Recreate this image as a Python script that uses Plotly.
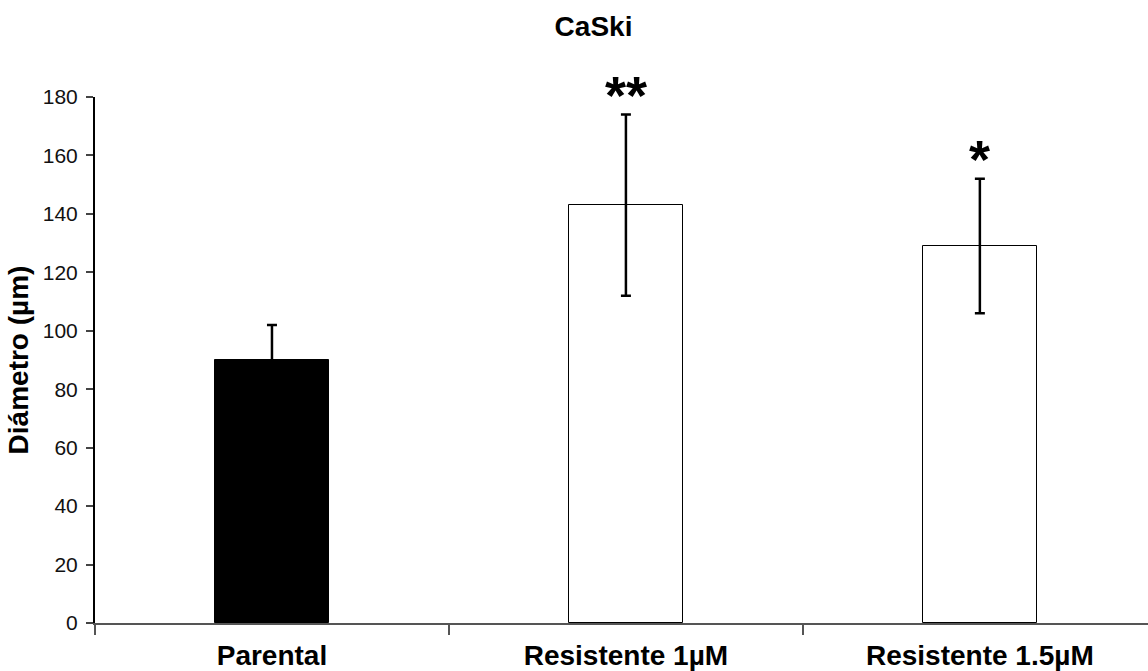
import plotly.graph_objects as go

categories = ["Parental", "Resistente 1µM", "Resistente 1.5µM"]
means = [90, 143, 129]
errors = [12, 31, 23]
bar_colors = ["black", "white", "white"]
sig_labels = ["", "**", "*"]
y_ticks = [0, 20, 40, 60, 80, 100, 120, 140, 160, 180]

FONT = "Liberation Sans, Arial, sans-serif"

fig = go.Figure()
fig.add_trace(go.Bar(
    x=categories, y=means, width=0.32,
    marker=dict(color=bar_colors, line=dict(color="black", width=1)),
    error_y=dict(type="data", array=errors, color="black", thickness=2.5, width=5),
    showlegend=False,
))

# significance marks placed above the top of each error bar
for c, s, m, e in zip(categories, sig_labels, means, errors):
    if s:
        fig.add_annotation(x=c, y=m + e, xref="x", yref="y", text=s, showarrow=False,
                           yanchor="middle", yshift=20,
                           font=dict(family=FONT, size=54, color="black", weight="bold"))

fig.update_layout(
    width=1148, height=671,
    margin=dict(l=95, r=0, t=97, b=48),
    paper_bgcolor="white", plot_bgcolor="white",
    title=dict(text="CaSki", x=0.517, xref="container", y=1 - 26 / 671, yref="container",
               xanchor="center", yanchor="middle",
               font=dict(family=FONT, size=28, color="black", weight="bold")),
    bargap=0,
)
fig.update_xaxes(
    type="category", range=[-0.5, 2.475], tickson="boundaries", automargin=False,
    ticks="outside", ticklen=10, tickcolor="#555", tickwidth=1.5,
    showline=True, linecolor="#555", linewidth=2, showgrid=False,
    ticklabelstandoff=6,
    tickfont=dict(family=FONT, size=28, color="black", weight="bold"),
)
fig.update_yaxes(
    range=[0, 180], tickvals=y_ticks, automargin=False,
    ticks="outside", ticklen=7, tickcolor="#444", tickwidth=1.5,
    showline=True, linecolor="black", linewidth=2, showgrid=False, zeroline=False,
    ticklabelstandoff=4,
    tickfont=dict(family=FONT, size=21, color="#111"),
    title=dict(text="Diámetro (µm)", standoff=6,
               font=dict(family=FONT, size=28, color="black", weight="bold")),
)

fig.write_html("out.html")
